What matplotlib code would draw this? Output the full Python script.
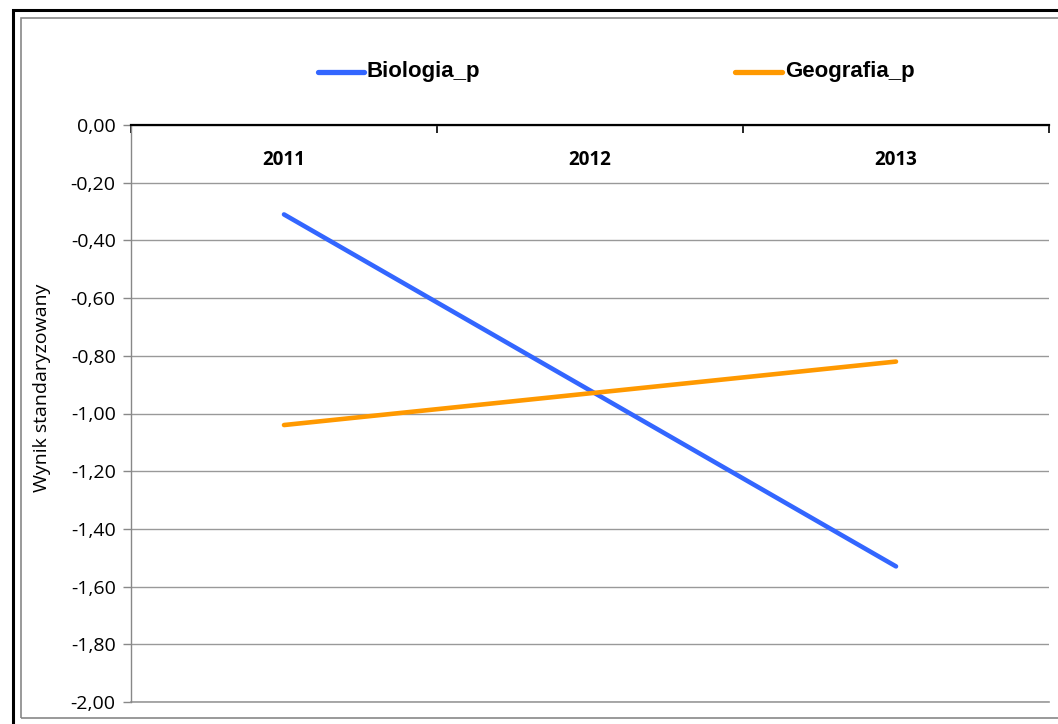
import matplotlib
matplotlib.use("Agg")
import matplotlib.pyplot as plt
from matplotlib.patches import Rectangle
from matplotlib.lines import Line2D

years = ["2011", "2012", "2013"]
biologia = [-0.31, -0.92, -1.53]
geografia = [-1.04, -0.93, -0.82]
yticks = [0.0, -0.2, -0.4, -0.6, -0.8, -1.0, -1.2, -1.4, -1.6, -1.8, -2.0]
series_names = ["Biologia_p", "Geografia_p"]
colors = ["#3366FF", "#FF9900"]

W, H = 1058, 724
fig = plt.figure(figsize=(W / 100, H / 100), dpi=100)

# outer borders
fig.add_artist(Rectangle((13 / W, -0.1), 1.2, 1 - 10 / H + 0.1, transform=fig.transFigure,
                         fill=False, edgecolor="black", linewidth=2.2))
fig.add_artist(Rectangle((21 / W, 1 - 718 / H), 1.2, (718 - 18) / H, transform=fig.transFigure,
                         fill=False, edgecolor="#888888", linewidth=1.2))

left, right, top, bottom = 131, 1049, 125, 702
ax = fig.add_axes([left / W, 1 - bottom / H, (right - left) / W, (bottom - top) / H])

x = [0.5, 1.5, 2.5]
ax.plot(x, biologia, color=colors[0], linewidth=3.3, solid_capstyle="round")
ax.plot(x, geografia, color=colors[1], linewidth=3.3, solid_capstyle="round")

ax.set_xlim(0, 3)
ax.set_ylim(-2.0, 0.0)
ax.set_yticks(yticks)
ax.set_yticklabels([f"{v:.2f}".replace(".", ",") for v in yticks],
                   fontsize=14, family="Open Sans")
ax.tick_params(axis="y", length=6, color="#888888", width=1, pad=5)
ax.yaxis.grid(True, color="#999999", linewidth=1)
ax.axhline(-2.0, color="#999999", linewidth=1.2, clip_on=False)
ax.set_axisbelow(True)

# top category axis at 0
ax.xaxis.tick_top()
ax.set_xticks([0, 1, 2, 3])
ax.set_xticklabels([])
ax.tick_params(axis="x", direction="in", length=6, color="black", width=1.2)
for xi, lab in zip(x, years):
    ax.text(xi, -0.12, lab, ha="center", va="center", fontsize=13.5,
            fontweight="bold", family="Open Sans")

for s in ["right", "bottom"]:
    ax.spines[s].set_visible(False)
ax.spines["top"].set_color("black")
ax.spines["top"].set_linewidth(1.6)
ax.spines["left"].set_color("#888888")
ax.spines["left"].set_linewidth(1)

fig.text(42 / W, 1 - 388 / H, "Wynik standaryzowany", rotation=90, ha="center", va="center",
         fontsize=14, family="Open Sans")

# legend (drawn manually to match the layout)
legend_pos = [(318, 364), (735, 782)]
for (x0, x1), name, c in zip(legend_pos, series_names, colors):
    fig.add_artist(Line2D([x0 / W, x1 / W], [1 - 72 / H, 1 - 72 / H], transform=fig.transFigure,
                          color=c, linewidth=3.8, solid_capstyle="round"))
    fig.text((x1 + 3) / W, 1 - 72 / H, name, ha="left", va="center",
             fontsize=16, fontweight="bold", family="Liberation Sans")

fig.savefig("out.png", dpi=100)
